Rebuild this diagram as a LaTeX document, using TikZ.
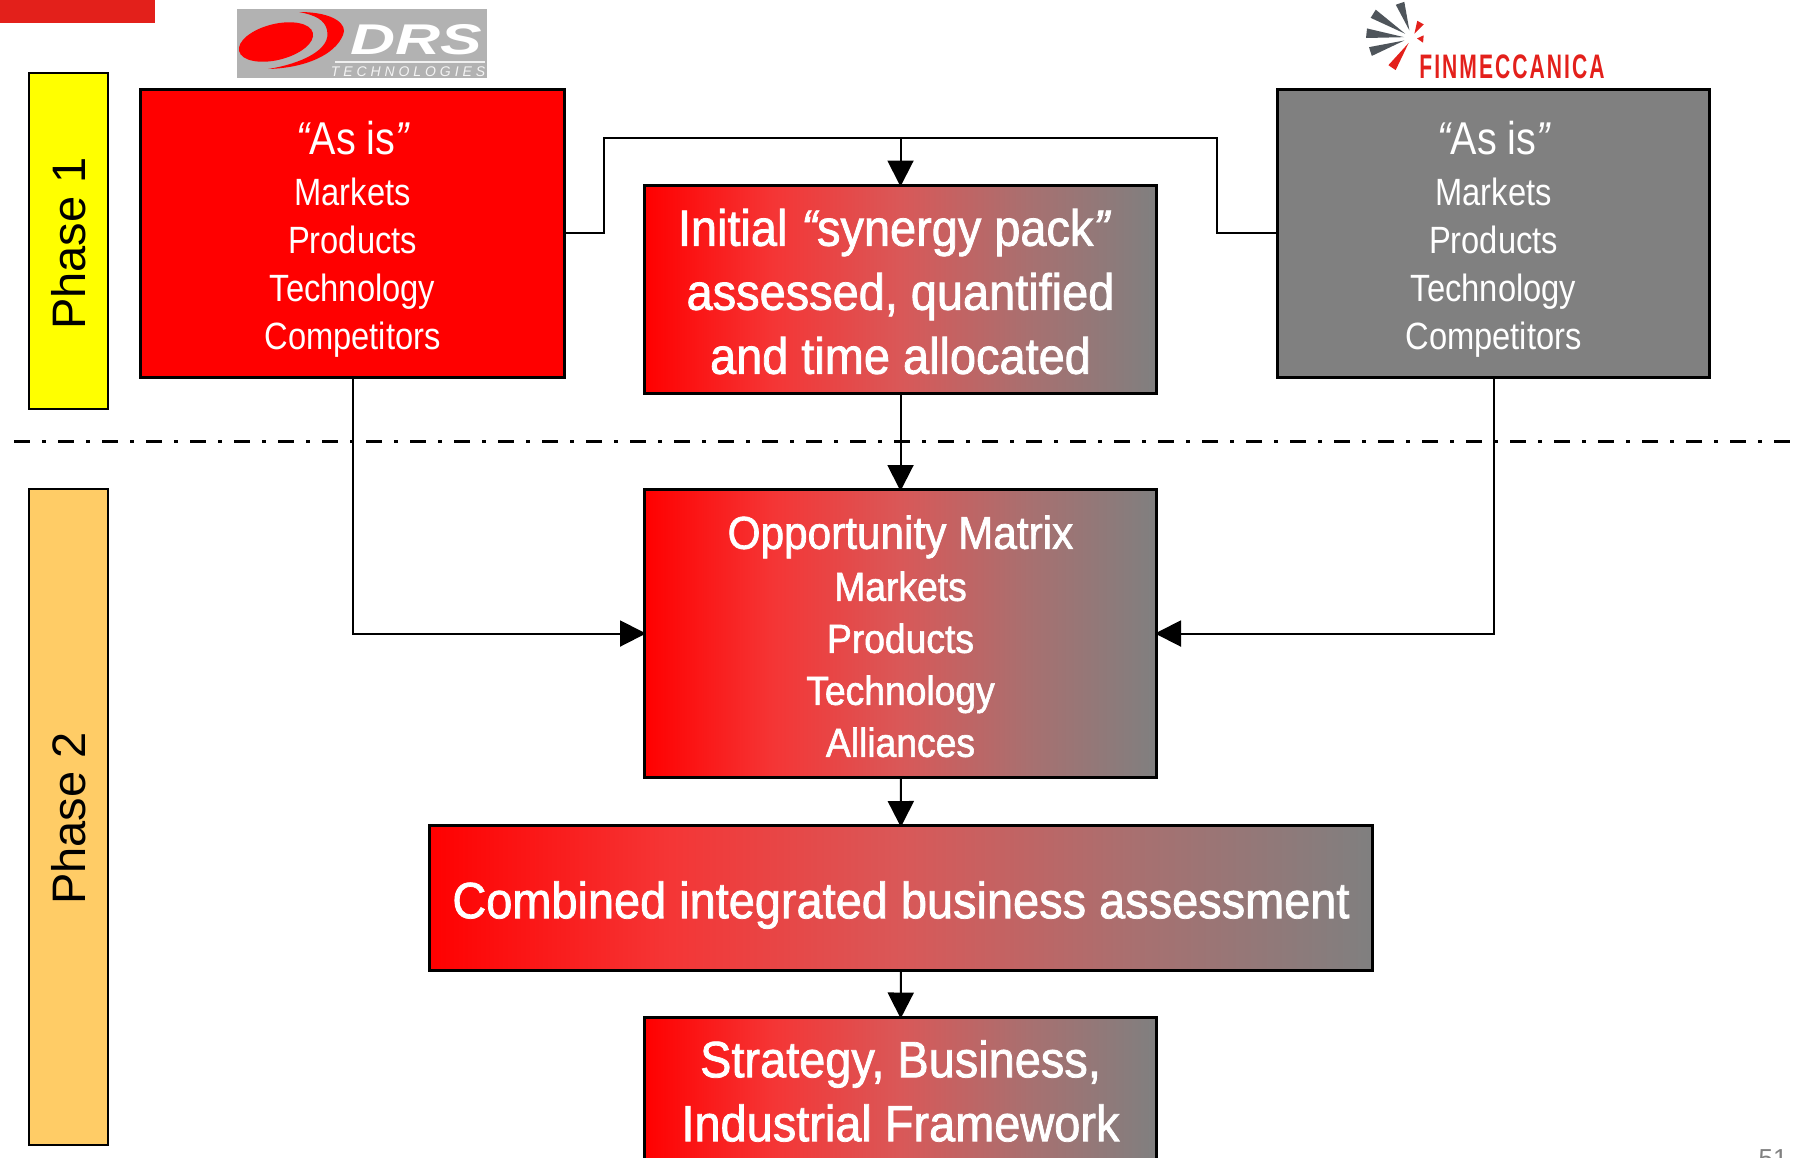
\documentclass[tikz,border=0pt]{standalone}
\usepackage{fontspec}
\setmainfont{Liberation Sans}
\newfontfamily\narrowfont[FakeStretch=0.86]{Liberation Sans}
\newfontfamily\mixfont[FakeStretch=0.92,FakeBold=1.5]{Liberation Sans}
\newfontfamily\widefont[FakeStretch=1.45]{Liberation Sans}
\newfontfamily\spacedfont[LetterSpace=28]{Liberation Sans}
\newfontfamily\finfont[FakeStretch=0.62,LetterSpace=6]{Liberation Sans}
\usetikzlibrary{arrows.meta}
\definecolor{drsgray}{HTML}{B2B2B2}
\definecolor{finred}{HTML}{E3201B}
\definecolor{raygray}{HTML}{4F555B}
\definecolor{phaseyellow}{RGB}{255,255,0}
\definecolor{phaseorange}{HTML}{FFCC66}
\definecolor{mixa}{HTML}{F53535}
\definecolor{mixb}{HTML}{D95858}
\definecolor{mixc}{HTML}{A87070}
\pgfdeclarehorizontalshading{mixshade}{100bp}{color(0bp)=(red); color(25bp)=(red); color(37.5bp)=(mixa); color(50bp)=(mixb); color(62.5bp)=(mixc); color(75bp)=(gray); color(100bp)=(gray)}
\newcommand{\padtop}[1]{\rule{0pt}{#1pt}}
\tikzset{
    phasebox/.style={rectangle, draw, line width=2pt, minimum width=79pt, text=black, font=\fontsize{47}{50}\selectfont},
    asisbox/.style={rectangle, draw, line width=3pt, text=white, align=center, minimum height=288pt, font=\narrowfont\fontsize{38}{48}\selectfont},
    mixbox/.style={rectangle, draw, line width=3pt, text=white, align=center, shade, shading=mixshade, font=\mixfont\fontsize{51}{64}\selectfont},
    link/.style={line width=2pt},
    linkarrow/.style={line width=2pt, shorten >=-3pt, -{Triangle[length=26pt, width=26pt]}}
}
\begin{document}
\begin{tikzpicture}[x=1pt, y=-1pt]
        \useasboundingbox (0,0) rectangle (1798,1157);
        \clip (0,0) rectangle (1798,1157);

        % top bar and logos
        \fill[finred] (0,0) rectangle (155,23);
        \fill[drsgray] (237,9) rectangle (487,78);
        \fill[red] (276,42) ellipse [x radius=38pt, y radius=18pt, rotate=14];
        \fill[red] (299,12) .. controls (335,12) and (348,25) .. (343,35) .. controls (335,55) and (305,68) .. (268,69) .. controls (300,64) and (332,50) .. (327,30) .. controls (325,20) and (315,15) .. (299,12) -- cycle;
        \node[text=white, inner sep=0pt, font=\widefont\bfseries\itshape\fontsize{43}{43}\selectfont] (drsname) at (416,40) {DRS};
        \draw[line width=1.5pt, color=white!80!drsgray] (335,62) -- (485,62);
        \node[text=white!85!drsgray, inner sep=0pt, font=\spacedfont\itshape\fontsize{14}{14}\selectfont] (drssub) at (408,72) {TECHNOLOGIES};
        \foreach \ang/\rad/\inrad/\wid/\col in {251/37/8/7/raygray, 212/46/8/6/raygray, 186/46/8/6/raygray, 162/44/8/6/raygray, 124/36/6/7/finred, 299/18/5/12/finred, 5/12/5/18/finred} {
            \fill[\col] (1412,38) +(\ang:\inrad) -- +({\ang-\wid}:\rad) -- +({\ang+\wid}:\rad) -- cycle;
        }
        \node[text=finred, inner sep=0pt, font=\finfont\bfseries\fontsize{34}{34}\selectfont] (finname) at (1512,67) {FINMECCANICA};

        % phase strips
        \node[phasebox, fill=phaseyellow, minimum height=336pt] (phaseone) at (68.5,241) {\rotatebox{90}{Phase 1\hspace{5pt}}};
        \node[phasebox, fill=phaseorange, minimum height=656pt] (phasetwo) at (68.5,817) {\rotatebox{90}{Phase 2\hspace{3pt}}};

        % boxes
        \node[asisbox, fill=red, minimum width=424pt] (drsbox) at (352.5,233.4)
            {\padtop{45.5}{\fontsize{46}{48}\selectfont {\itshape “}As is{\itshape ”}}\\[2.5pt]Markets\\Products\\Technology\\Competitors};
        \node[asisbox, fill=gray, minimum width=432pt] (finbox) at (1493.5,233.4)
            {\padtop{45.5}{\fontsize{46}{48}\selectfont {\itshape “}As is{\itshape ”}}\\[2.5pt]Markets\\Products\\Technology\\Competitors};
        \node[mixbox, minimum width=512pt, minimum height=208pt] (pack) at (900.5,289)
            {\padtop{42}Initial\hspace{14pt}{\itshape “}synergy pack{\itshape ”}\hspace*{14pt}\\assessed, quantified\\and time allocated};
        \node[mixbox, minimum width=512pt, minimum height=288pt, font=\mixfont\fontsize{40.5}{52}\selectfont] (matrix) at (900.5,633.5)
            {\padtop{39}{\fontsize{46}{52}\selectfont Opportunity Matrix}\\Markets\\Products\\Technology\\Alliances};
        \node[mixbox, minimum width=943pt, minimum height=145pt] (combined) at (901,898)
            {\padtop{51}Combined integrated business assessment};
        \node[mixbox, minimum width=512pt, minimum height=148pt] (framework) at (900.5,1091)
            {Strategy, Business,\\Industrial Framework};

        % phase divider
        \coordinate (dividerl) at (14,441);
        \coordinate (dividerr) at (1798,441);
        \draw[line width=3pt, dash pattern=on 16pt off 12pt on 4pt off 12pt] (dividerl) -- (dividerr);

        % connectors
        \coordinate (bendl) at (604,138);
        \coordinate (bendr) at (1217,138);
        \draw[link] (drsbox.east) -| (bendl) -- (bendr) |- (finbox.west);
        \draw[linkarrow] (pack.north |- bendl) -- (pack.north);
        \draw[linkarrow] (pack) -- (matrix);
        \draw[linkarrow] (matrix) -- (combined);
        \draw[linkarrow] (combined) -- (framework);
        \draw[linkarrow] (drsbox.south) |- (matrix.west);
        \draw[linkarrow] (finbox.south) |- (matrix.east);

        % page number
        \node[anchor=base, text=gray, inner sep=0pt, font=\fontsize{26}{26}\selectfont] (pagenum) at (1773,1167) {51};
    \end{tikzpicture}
\end{document}
